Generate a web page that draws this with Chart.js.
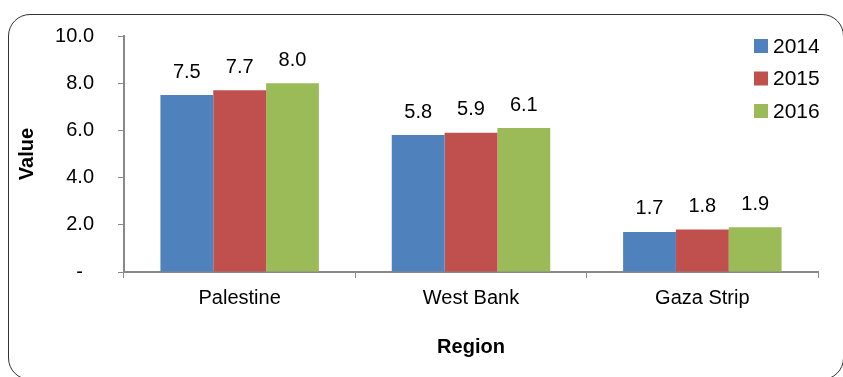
<!DOCTYPE html>
<html>
<head>
<meta charset="utf-8">
<script src="https://cdn.jsdelivr.net/npm/chart.js@4/dist/chart.umd.min.js"></script>
<style>
  html, body { margin: 0; padding: 0; background: #fff; overflow: hidden; }
  #wrap { position: relative; width: 843px; height: 377px; }
  #frame {
    position: absolute; left: 8px; top: 14px; width: 836px; height: 366px;
    border: 1.5px solid #333; border-radius: 22px; box-sizing: border-box;
  }
  canvas { position: absolute; left: 0; top: 0; }
</style>
</head>
<body>
<div id="wrap">
  <div id="frame"></div>
  <canvas id="chart" width="843" height="377"></canvas>
</div>
<script>
// chart data
var regions = ['Palestine', 'West Bank', 'Gaza Strip'];
var years = ['2014', '2015', '2016'];
var values2014 = [7.5, 5.8, 1.7];
var values2015 = [7.7, 5.9, 1.8];
var values2016 = [8.0, 6.1, 1.9];
var colors = ['#4F81BD', '#C0504D', '#9BBB59'];

var font = 'Arial, "Liberation Sans", sans-serif';

// value labels above each bar
var barLabels = {
    id: 'barLabels',
    afterDatasetsDraw: function (chart) {
        var ctx = chart.ctx;
        ctx.save();
        ctx.font = '20px ' + font;
        ctx.fillStyle = '#000';
        ctx.textAlign = 'center';
        ctx.textBaseline = 'middle';
        chart.data.datasets.forEach(function (ds, i) {
            chart.getDatasetMeta(i).data.forEach(function (bar, j) {
                ctx.fillText(ds.data[j].toFixed(1), bar.x, bar.y - 23);
            });
        });
        ctx.restore();
    }
};

// legend in the top right corner, stacked
var sideLegend = {
    id: 'sideLegend',
    afterDraw: function (chart) {
        var ctx = chart.ctx;
        ctx.save();
        ctx.font = '21px ' + font;
        ctx.textBaseline = 'middle';
        chart.data.datasets.forEach(function (ds, i) {
            var y = 46 + i * 32.5;
            ctx.fillStyle = ds.backgroundColor;
            ctx.fillRect(754, y - 7, 14, 14);
            ctx.fillStyle = '#000';
            ctx.fillText(ds.label, 773, y + 1);
        });
        ctx.restore();
    }
};

var ctx = document.getElementById('chart').getContext('2d');
new Chart(ctx, {
    type: 'bar',
    data: {
        labels: regions,
        datasets: [
            { label: years[0], data: values2014, backgroundColor: colors[0] },
            { label: years[1], data: values2015, backgroundColor: colors[1] },
            { label: years[2], data: values2016, backgroundColor: colors[2] }
        ]
    },
    options: {
        responsive: false,
        animation: false,
        layout: { padding: { top: 36, right: 25, left: 0, bottom: 0 } },
        datasets: { bar: { categoryPercentage: 0.685, barPercentage: 1.0 } },
        plugins: { legend: { display: false }, tooltip: { enabled: false } },
        scales: {
            x: {
                grid: { drawOnChartArea: false, drawTicks: true, tickLength: 6, color: '#888', offset: true },
                border: { display: true, color: '#888', width: 2 },
                ticks: { color: '#000', font: { size: 20, family: font }, padding: 8 },
                title: {
                    display: true, text: 'Region', color: '#000',
                    font: { size: 20, weight: 'bold', family: font },
                    padding: { top: 0, bottom: 18 }
                },
                afterFit: function (scale) { scale.height = 105; }
            },
            y: {
                min: 0, max: 10,
                grid: { drawOnChartArea: false, drawTicks: true, tickLength: 6, color: '#888' },
                border: { display: true, color: '#888', width: 2 },
                ticks: {
                    stepSize: 2, color: '#000', padding: 24,
                    font: { size: 20, family: font },
                    callback: function (v) { return v === 0 ? '-  ' : v.toFixed(1); }
                },
                title: {
                    display: true, text: 'Value', color: '#000',
                    font: { size: 20, weight: 'bold', family: font },
                    padding: { top: 15, bottom: 0 }
                },
                afterFit: function (scale) { scale.width = 124; }
            }
        }
    },
    plugins: [barLabels, sideLegend]
});
</script>
</body>
</html>
